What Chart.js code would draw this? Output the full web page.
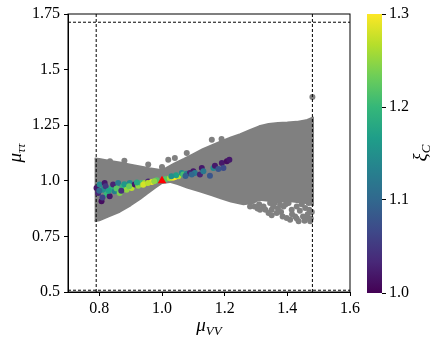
<!DOCTYPE html>
<html>
<head>
<meta charset="utf-8">
<script src="https://cdn.jsdelivr.net/npm/chart.js@4/dist/chart.umd.min.js"></script>
<style>
    html, body { margin: 0; padding: 0; background: #fff; }
    #wrap { position: relative; width: 441px; height: 347px; }
    #wrap canvas { position: absolute; left: 0; top: 0; }
</style>
</head>
<body>
<div id="wrap">
    <canvas id="MainChart" width="441" height="347"></canvas>
    <canvas id="ColorBar" width="441" height="347"></canvas>
</div>
<script>
// axis ticks
const xTicks = [0.8, 1.0, 1.2, 1.4, 1.6];
const xTickLabels = ['0.8', '1.0', '1.2', '1.4', '1.6'];
const yTicks = [0.5, 0.75, 1.0, 1.25, 1.5, 1.75];
const yTickLabels = ['0.5', '0.75', '1.0', '1.25', '1.5', '1.75'];
const cbTicks = [1.0, 1.1, 1.2, 1.3];
const cbTickLabels = ['1.0', '1.1', '1.2', '1.3'];

// dashed bounds
const boundX = [0.79, 1.48];
const boundY = [0.508, 1.713];

// outline of the dense gray cloud (upper edge left->right, lower edge right->left)
const upperX = [0.785, 0.80, 0.83, 0.865, 0.90, 0.93, 0.96, 0.99, 1.01, 1.04, 1.07, 1.10, 1.13, 1.16, 1.19, 1.22, 1.25, 1.28, 1.31, 1.34, 1.37, 1.40, 1.43, 1.46, 1.482];
const upperY = [1.10, 1.098, 1.09, 1.082, 1.072, 1.064, 1.056, 1.05, 1.055, 1.078, 1.098, 1.12, 1.142, 1.16, 1.178, 1.195, 1.21, 1.228, 1.245, 1.255, 1.26, 1.262, 1.265, 1.272, 1.285];
const lowerX = [1.482, 1.46, 1.43, 1.40, 1.37, 1.34, 1.31, 1.29, 1.26, 1.22, 1.19, 1.16, 1.12, 1.08, 1.05, 1.025, 1.0, 0.977, 0.95, 0.93, 0.90, 0.865, 0.83, 0.80, 0.785];
const lowerY = [0.89, 0.90, 0.905, 0.91, 0.905, 0.91, 0.915, 0.90, 0.895, 0.907, 0.92, 0.935, 0.953, 0.97, 0.985, 0.995, 0.99, 0.968, 0.94, 0.918, 0.89, 0.861, 0.84, 0.822, 0.818];

// loose gray points outside the dense cloud
const grayX = [0.834, 0.956, 1.02, 1.041, 1.079, 1.159, 1.19, 1.48, 0.88, 1.00,
    1.281, 1.313, 1.324, 1.340, 1.345, 1.350, 1.366, 1.377, 1.388,
    1.398, 1.404, 1.409, 1.414, 1.430, 1.436, 1.446, 1.457, 1.462, 1.468, 1.473, 1.478,
    1.295, 1.305, 1.33, 1.355, 1.37, 1.38, 1.395, 1.415, 1.425, 1.44, 1.45, 1.465, 1.475, 1.455,
    1.385, 1.36, 1.31, 1.43, 1.47, 1.35];
const grayY = [1.088, 1.073, 1.095, 1.103, 1.125, 1.185, 1.188, 1.377, 1.09, 1.062,
    0.885, 0.870, 0.885, 0.855, 0.900, 0.870, 0.855, 0.892, 0.885,
    0.833, 0.900, 0.825, 0.870, 0.885, 0.818, 0.895, 0.878, 0.833, 0.9, 0.818, 0.86,
    0.885, 0.875, 0.87, 0.885, 0.875, 0.86, 0.895, 0.85, 0.84, 0.865, 0.84, 0.85, 0.83, 0.82,
    0.84, 0.90, 0.895, 0.83, 0.87, 0.845];

// coloured points: mu_VV, mu_tautau, xi_C
const cX = [0.791, 0.796, 0.801, 0.807, 0.812, 0.817, 0.823, 0.833, 0.839, 0.844, 0.849, 0.860, 0.865, 0.876, 0.887, 0.897,
    0.903, 0.913, 0.924, 0.935, 0.945, 0.956, 0.967, 0.983, 0.80, 0.82, 0.855, 0.87, 0.88, 0.895, 0.92, 0.94, 0.955, 0.975,
    0.83, 0.81,
    1.012, 1.025, 1.035, 1.041, 1.052, 1.063, 1.068, 1.079, 1.089, 1.10, 1.105, 1.121, 1.127, 1.132, 1.153, 1.164, 1.169,
    1.18, 1.191, 1.196, 1.207, 1.215, 1.045, 1.075, 1.095, 1.03];
const cY = [0.968, 0.945, 0.983, 0.908, 0.960, 0.990, 0.938, 0.930, 0.968, 0.983, 0.953, 0.990, 0.945, 0.975, 0.960, 0.990,
    0.968, 0.983, 0.978, 0.990, 0.990, 0.997, 0.995, 1.002, 0.955, 0.975, 0.965, 0.955, 0.985, 0.975, 0.992, 0.982, 0.99, 0.998,
    0.955, 0.925,
    1.008, 1.012, 1.014, 1.017, 1.020, 1.035, 1.028, 1.032, 1.035, 1.043, 1.035, 1.028, 1.058, 1.043, 1.023, 1.058, 1.068,
    1.053, 1.080, 1.058, 1.088, 1.095, 1.025, 1.022, 1.028, 1.02];
const cXi = [1.02, 1.03, 1.14, 1.01, 1.15, 1.02, 1.20, 1.02, 1.19, 1.03, 1.13, 1.12, 1.24, 1.20, 1.25, 1.14,
    1.27, 1.02, 1.25, 1.21, 1.26, 1.03, 1.29, 1.22, 1.10, 1.05, 1.22, 1.04, 1.16, 1.23, 1.18, 1.28, 1.27, 1.25,
    1.17, 1.06,
    1.22, 1.26, 1.29, 1.30, 1.27, 1.14, 1.21, 1.13, 1.03, 1.02, 1.12, 1.03, 1.02, 1.12, 1.08, 1.14, 1.02,
    1.08, 1.02, 1.07, 1.01, 1.02, 1.17, 1.09, 1.10, 1.15];

const bestX = [1.0];
const bestY = [1.0];

const cMin = 1.0;
const cMax = 1.3;

const viridis = ['#440154', '#482878', '#3e4989', '#31688e', '#26828e', '#1f9e89', '#35b779', '#6ece58', '#b5de2b', '#fde725'];

function hexRgb(h) {
    return [parseInt(h.slice(1, 3), 16), parseInt(h.slice(3, 5), 16), parseInt(h.slice(5, 7), 16)];
}
function viridisColor(v) {
    let t = Math.min(1, Math.max(0, (v - cMin) / (cMax - cMin))) * (viridis.length - 1);
    const i = Math.min(viridis.length - 2, Math.floor(t));
    const f = t - i;
    const a = hexRgb(viridis[i]), b = hexRgb(viridis[i + 1]);
    return `rgb(${a.map((c, k) => Math.round(c + (b[k] - c) * f)).join(',')})`;
}

const serif = '"Liberation Serif", "DejaVu Serif", serif';

function subLabel(ctx, x, y, rot, main, sub) {
    ctx.save();
    ctx.translate(x, y);
    ctx.rotate(rot);
    ctx.fillStyle = '#000';
    ctx.textBaseline = 'alphabetic';
    ctx.textAlign = 'left';
    ctx.font = `italic 19px ${serif}`;
    const w1 = ctx.measureText(main).width;
    ctx.font = `italic 13px ${serif}`;
    const w2 = ctx.measureText(sub).width;
    const x0 = -(w1 + w2) / 2;
    ctx.font = `italic 19px ${serif}`;
    ctx.fillText(main, x0, 0);
    ctx.font = `italic 13px ${serif}`;
    ctx.fillText(sub, x0 + w1, 4);
    ctx.restore();
}

const pts = (xs, ys) => xs.map((x, i) => ({x: x, y: ys[i]}));

const cloud = pts(upperX, upperY).concat(pts(lowerX, lowerY));

const frameAndTitles = {
    id: 'frameAndTitles',
    afterDatasetsDraw(chart) {
        const a = chart.chartArea;
        const ctx = chart.ctx;
        ctx.save();
        ctx.strokeStyle = '#000';
        ctx.lineWidth = 1;
        ctx.strokeRect(a.left, a.top, a.right - a.left, a.bottom - a.top);
        ctx.restore();
    },
    afterDraw(chart) {
        const a = chart.chartArea;
        subLabel(chart.ctx, (a.left + a.right) / 2, 331, 0, 'μ', 'VV');
        subLabel(chart.ctx, 21, (a.top + a.bottom) / 2, -Math.PI / 2, 'μ', 'ττ');
    }
};

const tickFont = {family: serif, size: 16};

const mainChart = new Chart(document.querySelector('#MainChart'), {
    type: 'scatter',
    data: {
        datasets: [
            {
                data: pts(bestX, bestY),
                pointStyle: 'triangle',
                pointRadius: 5,
                backgroundColor: 'rgb(255, 0, 0)',
                borderColor: 'rgb(255, 0, 0)',
                borderWidth: 0
            },
            {
                data: pts(cX, cY),
                pointRadius: 3,
                borderWidth: 0,
                backgroundColor: cXi.map(v => viridisColor(v))
            },
            {
                type: 'line',
                data: [{x: boundX[0], y: 0.5}, {x: boundX[0], y: 1.75}],
                borderColor: '#000', borderWidth: 1, borderDash: [3, 2], pointRadius: 0, fill: false
            },
            {
                type: 'line',
                data: [{x: boundX[1], y: 0.5}, {x: boundX[1], y: 1.75}],
                borderColor: '#000', borderWidth: 1, borderDash: [3, 2], pointRadius: 0, fill: false
            },
            {
                type: 'line',
                data: [{x: 0.7, y: boundY[0]}, {x: 1.6, y: boundY[0]}],
                borderColor: '#000', borderWidth: 1, borderDash: [3, 2], pointRadius: 0, fill: false
            },
            {
                type: 'line',
                data: [{x: 0.7, y: boundY[1]}, {x: 1.6, y: boundY[1]}],
                borderColor: '#000', borderWidth: 1, borderDash: [3, 2], pointRadius: 0, fill: false
            },
            {
                data: pts(grayX, grayY),
                pointRadius: 3,
                borderWidth: 0,
                backgroundColor: 'rgb(128, 128, 128)'
            },
            {
                type: 'line',
                data: cloud,
                showLine: true,
                fill: 'shape',
                tension: 0,
                pointRadius: 0,
                borderColor: 'rgb(128, 128, 128)',
                backgroundColor: 'rgb(128, 128, 128)',
                borderWidth: 2,
                borderJoinStyle: 'round'
            }
        ]
    },
    options: {
        responsive: false,
        animation: false,
        devicePixelRatio: 1,
        layout: {padding: {left: 0, top: 14, right: 91, bottom: 0}},
        plugins: {legend: {display: false}, tooltip: {enabled: false}},
        scales: {
            x: {
                type: 'linear',
                min: 0.7,
                max: 1.6,
                afterBuildTicks: s => { s.ticks = xTicks.map(v => ({value: v})); },
                afterFit: s => { s.height = 55; },
                ticks: {
                    color: '#000', font: tickFont, padding: 3, maxRotation: 0,
                    callback: (v, i) => xTickLabels[i]
                },
                grid: {drawOnChartArea: false, tickLength: 4, tickColor: '#000'},
                border: {color: '#000'}
            },
            y: {
                type: 'linear',
                min: 0.5,
                max: 1.75,
                afterBuildTicks: s => { s.ticks = yTicks.map(v => ({value: v})); },
                afterFit: s => { s.width = 68; },
                ticks: {
                    color: '#000', font: tickFont, padding: 4,
                    callback: (v, i) => yTickLabels[i]
                },
                grid: {drawOnChartArea: false, tickLength: 4, tickColor: '#000'},
                border: {color: '#000'}
            }
        }
    },
    plugins: [frameAndTitles]
});

const cbTitle = {
    id: 'cbTitle',
    afterDraw(chart) {
        subLabel(chart.ctx, 426, 153, -Math.PI / 2, 'ξ', 'C');
    }
};

const colorBar = new Chart(document.querySelector('#ColorBar'), {
    type: 'bar',
    data: {
        labels: [''],
        datasets: [{
            data: [[cMin, cMax]],
            barPercentage: 1,
            categoryPercentage: 1,
            borderWidth: 0,
            backgroundColor: c => {
                const a = c.chart.chartArea;
                if (!a) return viridis[0];
                const g = c.chart.ctx.createLinearGradient(0, a.bottom, 0, a.top);
                viridis.forEach((col, i) => g.addColorStop(i / (viridis.length - 1), col));
                return g;
            }
        }]
    },
    options: {
        responsive: false,
        animation: false,
        devicePixelRatio: 1,
        layout: {padding: {left: 367, top: 14, right: 0, bottom: 54}},
        plugins: {legend: {display: false}, tooltip: {enabled: false}},
        scales: {
            x: {display: false},
            y: {
                position: 'right',
                min: cMin,
                max: cMax,
                afterBuildTicks: s => { s.ticks = cbTicks.map(v => ({value: v})); },
                afterFit: s => { s.width = 59; },
                ticks: {
                    color: '#000', font: tickFont, padding: 3,
                    callback: (v, i) => cbTickLabels[i]
                },
                grid: {drawOnChartArea: false, tickLength: 4, tickColor: '#000'},
                border: {display: false}
            }
        }
    },
    plugins: [cbTitle]
});
</script>
</body>
</html>
